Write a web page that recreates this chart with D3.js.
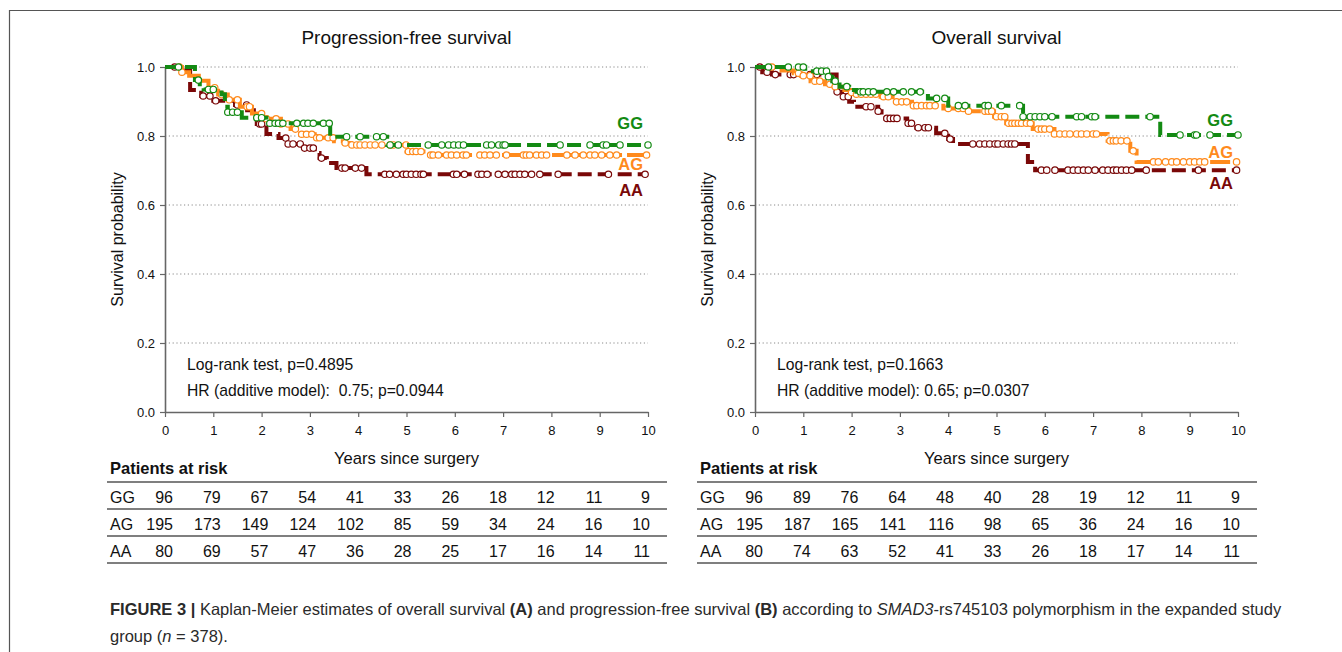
<!DOCTYPE html>
<html>
<head>
<meta charset="utf-8">
<script src="https://cdn.jsdelivr.net/npm/d3@7"></script>
<style>
  body { margin: 0; background: #fff; }
  svg text { font-family: "Liberation Sans", Arial, sans-serif; }
</style>
</head>
<body>
<svg id="fig" width="1342" height="652"></svg>
<script>
// ---- data ----
const groups = ["GG", "AG", "AA"];
const colors = { GG: "#138a13", AG: "#ff8a1c", AA: "#7a0808" };
const riskTimes = [0, 1, 2, 3, 4, 5, 6, 7, 8, 9, 10];
const yTicks = [0, 0.2, 0.4, 0.6, 0.8, 1.0];

// progression-free survival: step change points (time, survival)
const pfsGG_t = [0, 0.62, 0.72, 0.8, 1.17, 1.24, 1.3, 1.59, 2.1, 3.42, 4.6];
const pfsGG_s = [1, 0.962, 0.943, 0.935, 0.921, 0.885, 0.869, 0.853, 0.837, 0.798, 0.774];
const pfsAG_t = [0, 0.35, 0.5, 0.7, 0.9, 1.1, 1.3, 1.55, 1.8, 2.1, 2.4, 2.6, 2.8, 3.1, 3.5, 3.7, 3.85, 5.0, 5.4];
const pfsAG_s = [1, 0.985, 0.975, 0.96, 0.94, 0.92, 0.905, 0.885, 0.865, 0.85, 0.835, 0.82, 0.805, 0.795, 0.785, 0.78, 0.774, 0.755, 0.745];
const pfsAA_t = [0, 0.25, 0.52, 0.75, 1.0, 1.45, 1.7, 1.9, 2.1, 2.35, 2.55, 2.85, 3.1, 3.2, 3.35, 3.55, 4.17];
const pfsAA_s = [1, 0.99, 0.933, 0.916, 0.902, 0.89, 0.875, 0.835, 0.806, 0.794, 0.777, 0.765, 0.751, 0.736, 0.722, 0.707, 0.689];
// censoring times
const pfsGG_c = [0.28, 0.69, 0.9, 1.0, 1.3, 1.4, 1.5, 1.9, 2.0, 2.17, 2.28, 2.35, 2.44, 2.73, 2.87, 2.96, 3.07, 3.28, 3.4,
  3.76, 4.04, 4.38, 4.52, 4.66, 4.83, 5.45, 5.73, 5.87, 5.98, 6.08, 6.18, 6.66, 6.76, 6.91, 7.0, 7.04, 8.18, 8.8, 9.07, 9.14, 9.42, 10];
const pfsAG_c = [0.3, 0.35, 1.03, 1.17, 1.33, 1.5, 1.7, 1.75, 2.0, 2.1, 2.3, 2.4, 2.55, 2.7, 2.83, 2.93, 3.04, 3.14, 3.2,
  3.38, 3.48, 3.73, 3.87, 3.97, 4.04, 4.14, 4.25, 4.35, 4.49, 4.66, 4.73, 4.99, 5.04, 5.13, 5.2, 5.3, 5.5, 5.55, 5.66, 5.83,
  5.93, 6.04, 6.17, 6.24, 6.52, 6.62, 6.73, 6.86, 7.07, 7.42, 7.48, 7.55, 7.69, 7.8, 7.9, 8.32, 8.49, 8.66, 8.8, 8.9, 9.04,
  9.21, 9.35, 9.97];
const pfsAA_c = [0.2, 0.79, 0.93, 1.05, 1.5, 1.69, 1.96, 2.0, 2.5, 2.55, 2.65, 2.8, 2.89, 3.0, 3.07, 3.24, 3.66, 3.73, 3.94,
  4.07, 4.55, 4.65, 4.79, 4.93, 5.0, 5.1, 5.2, 5.3, 5.35, 5.97, 6.04, 6.2, 6.48, 6.56, 6.67, 6.9, 7.04, 7.18, 7.25, 7.35,
  7.45, 7.59, 7.76, 8.14, 9.18, 9.94];

// overall survival
const osGG_t = [0, 1.04, 1.52, 1.6, 1.75, 1.95, 2.1, 3.58, 4.0, 5.55, 8.39];
const osGG_s = [1, 0.988, 0.972, 0.959, 0.943, 0.933, 0.928, 0.909, 0.888, 0.856, 0.803];
const osAG_t = [0, 0.55, 0.8, 0.95, 1.15, 1.45, 1.65, 1.85, 2.0, 2.1, 2.6, 2.85, 3.25, 3.9, 4.4, 4.95, 5.2, 5.75, 6.2, 7.3, 7.77, 7.9];
const osAG_s = [1, 0.99, 0.982, 0.975, 0.959, 0.95, 0.943, 0.933, 0.926, 0.921, 0.914, 0.899, 0.888, 0.88, 0.872, 0.856, 0.837, 0.82, 0.806, 0.786, 0.757, 0.725];
const osAA_t = [0, 0.15, 0.35, 1.69, 1.8, 1.95, 2.05, 2.55, 2.62, 2.7, 3.15, 3.25, 3.75, 4.0, 4.1, 5.65, 5.8];
const osAA_s = [1, 0.985, 0.978, 0.928, 0.914, 0.899, 0.885, 0.872, 0.861, 0.851, 0.837, 0.824, 0.808, 0.791, 0.777, 0.725, 0.701];
const osGG_c = [0.28, 0.69, 0.9, 1.0, 1.28, 1.38, 1.48, 1.52, 1.66, 1.9, 2.18, 2.24, 2.35, 2.45, 2.73, 2.87, 3.07, 3.24, 3.42,
  3.76, 3.93, 4.21, 4.35, 4.76, 4.83, 5.1, 5.48, 5.55, 5.7, 5.8, 5.9, 6.0, 6.15, 6.66, 6.76, 6.97, 7.04, 8.18, 8.8, 9.1, 9.14, 9.42, 10];
const osAG_c = [0.35, 0.9, 1.0, 1.14, 1.24, 1.34, 1.55, 1.66, 2.0, 2.1, 2.2, 2.3, 2.4, 2.5, 2.66, 2.76, 2.93, 3.04, 3.14,
  3.28, 3.35, 3.45, 3.55, 3.62, 3.73, 4.0, 4.21, 4.31, 4.42, 4.76, 4.83, 4.9, 5.0, 5.1, 5.17, 5.25, 5.32, 5.38, 5.45, 5.52,
  5.62, 5.7, 5.86, 5.93, 6.0, 6.1, 6.2, 6.31, 6.42, 6.52, 6.66, 6.76, 6.87, 7.0, 7.07, 7.35, 7.42, 7.48, 7.58, 7.7, 7.83,
  8.25, 8.35, 8.5, 8.63, 8.73, 8.87, 9.0, 9.1, 9.21, 9.31, 9.97];
const osAA_c = [0.1, 0.25, 0.42, 0.73, 0.8, 1.14, 1.28, 1.7, 1.83, 1.93, 2.3, 2.4, 2.55, 2.73, 2.8, 2.87, 2.94, 3.17, 3.24,
  3.38, 3.52, 3.59, 3.93, 4.04, 4.51, 4.65, 4.76, 4.86, 4.97, 5.03, 5.14, 5.24, 5.31, 5.38, 5.93, 6.04, 6.21, 6.48, 6.59,
  6.69, 6.8, 6.9, 7.04, 7.2, 7.31, 7.42, 7.49, 7.59, 7.69, 7.8, 8.1, 9.18, 9.97];

// patients at risk
const pfsRiskGG = [96, 79, 67, 54, 41, 33, 26, 18, 12, 11, 9];
const pfsRiskAG = [195, 173, 149, 124, 102, 85, 59, 34, 24, 16, 10];
const pfsRiskAA = [80, 69, 57, 47, 36, 28, 25, 17, 16, 14, 11];
const osRiskGG = [96, 89, 76, 64, 48, 40, 28, 19, 12, 11, 9];
const osRiskAG = [195, 187, 165, 141, 116, 98, 65, 36, 24, 16, 10];
const osRiskAA = [80, 74, 63, 52, 41, 33, 26, 18, 17, 14, 11];

const panels = [
  {
    title: "Progression-free survival", left: 165,
    steps: { GG: [pfsGG_t, pfsGG_s], AG: [pfsAG_t, pfsAG_s], AA: [pfsAA_t, pfsAA_s] },
    censor: { GG: pfsGG_c, AG: pfsAG_c, AA: pfsAA_c },
    risk: { GG: pfsRiskGG, AG: pfsRiskAG, AA: pfsRiskAA },
    labelY: { GG: 0.838, AG: 0.719, AA: 0.643 },
    stats: ["Log-rank test, p=0.4895", "HR (additive model):  0.75; p=0.0944"]
  },
  {
    title: "Overall survival", left: 755,
    steps: { GG: [osGG_t, osGG_s], AG: [osAG_t, osAG_s], AA: [osAA_t, osAA_s] },
    censor: { GG: osGG_c, AG: osAG_c, AA: osAA_c },
    risk: { GG: osRiskGG, AG: osRiskAG, AA: osRiskAA },
    labelY: { GG: 0.846, AG: 0.754, AA: 0.664 },
    stats: ["Log-rank test, p=0.1663", "HR (additive model): 0.65; p=0.0307"]
  }
];

const svg = d3.select("#fig");

// outer frame
svg.append("path")
  .attr("d", "M9.5,652 V10.5 H1342")
  .attr("fill", "none")
  .attr("stroke", "#555")
  .attr("stroke-width", 1.2);

const plotW = 483, plotTop = 67, plotBottom = 412;

function survAt(t, s, time) {
  let v = s[0];
  for (let i = 0; i < t.length; i++) {
    if (t[i] <= time) v = s[i];
  }
  return v;
}

function drawPanel(p) {
  const x = d3.scaleLinear().domain([0, 10]).range([p.left, p.left + plotW]);
  const y = d3.scaleLinear().domain([0, 1]).range([plotBottom, plotTop]);
  const g = svg.append("g");

  // title
  g.append("text")
    .attr("x", p.left + plotW / 2)
    .attr("y", 44)
    .attr("text-anchor", "middle")
    .attr("font-size", 19)
    .attr("fill", "#111")
    .text(p.title);

  // dotted grid
  g.selectAll(".grid")
    .data(yTicks.filter(d => d > 0))
    .enter()
    .append("line")
    .attr("x1", x(0))
    .attr("x2", x(10))
    .attr("y1", d => y(d))
    .attr("y2", d => y(d))
    .attr("stroke", "#8a8a8a")
    .attr("stroke-width", 1)
    .attr("stroke-dasharray", "1.2,2.6");

  // axes
  const yAxis = g.append("g")
    .attr("transform", `translate(${x(0)},0)`)
    .call(d3.axisLeft(y).tickValues(yTicks).tickFormat(d3.format(".1f")).tickSize(5).tickSizeOuter(0));
  const xAxis = g.append("g")
    .attr("transform", `translate(0,${y(0)})`)
    .call(d3.axisBottom(x).tickValues(riskTimes).tickFormat(d3.format("d")).tickSize(5).tickSizeOuter(0));
  [yAxis, xAxis].forEach(a => {
    a.select(".domain").attr("stroke", "#666").attr("stroke-width", 1.6);
    a.selectAll(".tick line").attr("stroke", "#666").attr("stroke-width", 1.2);
    a.selectAll(".tick text")
      .attr("font-size", 13)
      .attr("fill", "#111")
      .style("font-family", "'Liberation Sans', Arial, sans-serif");
  });
  yAxis.selectAll(".tick text").attr("x", -10);
  xAxis.selectAll(".tick text").attr("y", 14);

  // axis titles
  g.append("text")
    .attr("transform", `translate(${p.left - 42},${(plotTop + plotBottom) / 2}) rotate(-90)`)
    .attr("text-anchor", "middle")
    .attr("font-size", 16)
    .attr("fill", "#111")
    .text("Survival probability");
  g.append("text")
    .attr("x", p.left + plotW / 2)
    .attr("y", 464)
    .attr("text-anchor", "middle")
    .attr("font-size", 16.6)
    .attr("fill", "#111")
    .text("Years since surgery");

  // stats
  p.stats.forEach((s, i) => {
    g.append("text")
      .attr("x", p.left + 22)
      .attr("y", 370 + i * 26)
      .attr("font-size", 15.7)
      .attr("fill", "#111")
      .style("white-space", "pre")
      .text(s);
  });

  // curves
  const line = d3.line()
    .x(d => x(d[0]))
    .y(d => y(d[1]))
    .curve(d3.curveStepAfter);

  ["AA", "AG", "GG"].forEach(k => {
    const t = p.steps[k][0], s = p.steps[k][1];
    const pts = t.map((d, i) => [d, s[i]]);
    pts.push([10, s[s.length - 1]]);
    g.append("path")
      .datum(pts)
      .attr("d", line)
      .attr("fill", "none")
      .attr("stroke", colors[k])
      .attr("stroke-width", 4)
      .attr("stroke-dasharray", k === "AG" ? "20,5" : "14,6");

    g.selectAll(".c" + k)
      .data(p.censor[k])
      .enter()
      .append("circle")
      .attr("cx", d => x(d))
      .attr("cy", d => y(survAt(t, s, d)))
      .attr("r", 3.2)
      .attr("fill", "#fff")
      .attr("stroke", colors[k])
      .attr("stroke-width", 1.2);

    g.append("text")
      .attr("x", x(10) - 5)
      .attr("y", y(p.labelY[k]))
      .attr("dy", "0.36em")
      .attr("text-anchor", "end")
      .attr("font-size", 16.5)
      .attr("font-weight", "bold")
      .attr("fill", colors[k])
      .text(k);
  });

  // patients at risk table
  const tl = p.left - 58, tr = p.left + plotW + 19;
  g.append("text")
    .attr("x", tl + 3)
    .attr("y", 474)
    .attr("font-size", 16.5)
    .attr("font-weight", "bold")
    .attr("fill", "#111")
    .text("Patients at risk");

  const rowY = d3.scalePoint().domain(groups).range([497, 551]);
  const colX = d3.scaleLinear().domain([0, 10]).range([p.left + 8, p.left + plotW + 2]);

  [482, 509, 536, 563].forEach(ly => {
    g.append("line")
      .attr("x1", tl).attr("x2", tr)
      .attr("y1", ly).attr("y2", ly)
      .attr("stroke", "#555")
      .attr("stroke-width", 1.3);
  });

  groups.forEach(k => {
    g.append("text")
      .attr("x", tl + 3)
      .attr("y", rowY(k))
      .attr("dy", "0.36em")
      .attr("font-size", 16)
      .attr("fill", "#111")
      .text(k);
    g.selectAll(".r" + k)
      .data(p.risk[k])
      .enter()
      .append("text")
      .attr("x", (d, i) => colX(riskTimes[i]))
      .attr("y", rowY(k))
      .attr("dy", "0.36em")
      .attr("text-anchor", "end")
      .attr("font-size", 16)
      .attr("fill", "#111")
      .text(d => d);
  });
}

panels.forEach(drawPanel);

// caption
const cap = svg.append("text")
  .attr("x", 110)
  .attr("y", 615)
  .attr("font-size", 16.5)
  .attr("fill", "#2a2a2a");
cap.append("tspan").attr("font-weight", "bold").text("FIGURE 3 | ");
cap.append("tspan").text("Kaplan-Meier estimates of overall survival ");
cap.append("tspan").attr("font-weight", "bold").text("(A)");
cap.append("tspan").text(" and progression-free survival ");
cap.append("tspan").attr("font-weight", "bold").text("(B)");
cap.append("tspan").text(" according to ");
cap.append("tspan").attr("font-style", "italic").text("SMAD3");
cap.append("tspan").text("-rs745103 polymorphism in the expanded study");

const cap2 = svg.append("text")
  .attr("x", 110)
  .attr("y", 642)
  .attr("font-size", 16.5)
  .attr("fill", "#2a2a2a");
cap2.append("tspan").text("group (");
cap2.append("tspan").attr("font-style", "italic").text("n");
cap2.append("tspan").text(" = 378).");
</script>
</body>
</html>
